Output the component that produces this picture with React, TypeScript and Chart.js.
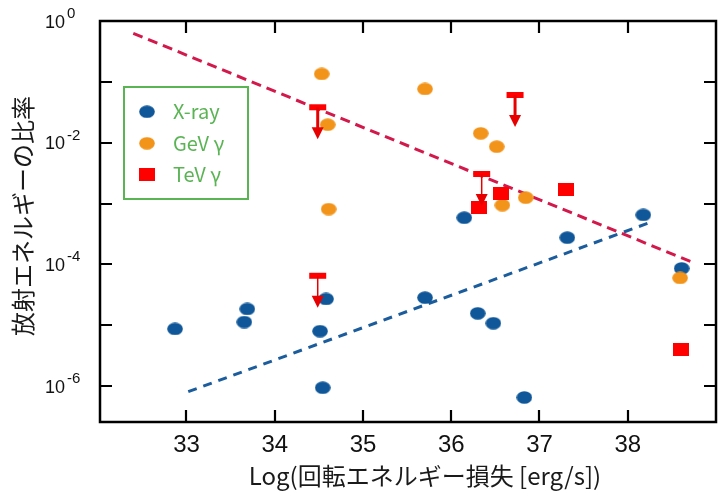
import React, { useEffect, useRef } from 'react';
import { Chart, registerables } from 'chart.js';

Chart.register(...registerables);

// Log10 of spin-down luminance (erg/s) and the radiated energy fraction
const xrayX = [32.87, 33.655, 33.689, 34.581, 34.513, 34.544, 35.703, 36.148, 36.3, 36.477, 36.828, 37.315, 38.176, 38.611];
const xrayY = [8.7e-6, 1.13e-5, 1.85e-5, 2.7e-5, 8.0e-6, 9.4e-7, 2.84e-5, 5.85e-4, 1.57e-5, 1.08e-5, 6.5e-7, 2.75e-4, 6.5e-4, 8.6e-5];

const gevX = [34.532, 34.6, 34.611, 35.703, 36.334, 36.515, 36.579, 36.844, 38.593];
const gevY = [0.135, 0.0198, 8.1e-4, 0.0763, 0.01426, 8.6e-3, 9.4e-4, 1.25e-3, 6.0e-5];

const tevX = [36.318, 36.567, 37.3, 38.603];
const tevY = [8.55e-4, 1.47e-3, 1.67e-3, 4.07e-6];

// TeV upper limits
const tevLimitX = [34.487, 36.723, 36.345, 34.487];
const tevLimitY = [0.0382, 0.0608, 3.06e-3, 6.5e-5];

// Trend lines
const gammaTrendX = [32.397, 38.762];
const gammaTrendY = [0.628, 1.04e-4];
const xrayTrendX = [33.02, 38.244];
const xrayTrendY = [8.1e-7, 4.84e-4];

// Axes
const xTicks = [33, 34, 35, 36, 37, 38];
const yTickExponents = [-1, -2, -3, -4, -5, -6];
const yLabelExponents = [0, -2, -4, -6];

const legendLabels = ['X-ray', 'GeV γ', 'TeV γ'];
const xTitle = 'Log(回転エネルギー損失 [erg/s])';
const yTitle = '放射エネルギーの比率';

const BLUE = '#0f5799';
const ORANGE = '#f3941a';
const RED = '#ff0000';
const GREEN = '#5ab454';
const arrowShaftWidths = [3, 3, 1.5, 1.5];

function ellipseMark(color: string): HTMLCanvasElement {
  const c = document.createElement('canvas');
  c.width = 16;
  c.height = 13;
  const g = c.getContext('2d')!;
  g.fillStyle = color;
  g.beginPath();
  g.ellipse(8, 6.5, 7.8, 6.3, 0, 0, Math.PI * 2);
  g.fill();
  return c;
}

function squareMark(color: string): HTMLCanvasElement {
  const c = document.createElement('canvas');
  c.width = 16;
  c.height = 13;
  const g = c.getContext('2d')!;
  g.fillStyle = color;
  g.fillRect(0, 0, 16, 13);
  return c;
}

const pts = (xs: number[], ys: number[]) => xs.map((x, i) => ({ x, y: ys[i] }));

export default function App() {
  const ref = useRef<HTMLCanvasElement | null>(null);

  useEffect(() => {
    if (!ref.current) return;
    const blueMark = ellipseMark(BLUE);
    const orangeMark = ellipseMark(ORANGE);
    const redMark = squareMark(RED);

    const decorations = {
      id: 'decorations',
      afterDatasetsDraw(chart: any) {
        const { ctx, scales } = chart;
        const xs = scales.x;
        const ys = scales.y;
        ctx.save();
        tevLimitX.forEach((xv, i) => {
          const px = xs.getPixelForValue(xv);
          const py = ys.getPixelForValue(tevLimitY[i]);
          const len = 32;
          ctx.fillStyle = RED;
          ctx.fillRect(px - 8.5, py - 3, 17, 6);
          ctx.strokeStyle = '#e60000';
          ctx.lineWidth = arrowShaftWidths[i];
          ctx.beginPath();
          ctx.moveTo(px, py);
          ctx.lineTo(px, py + len - 10);
          ctx.stroke();
          ctx.fillStyle = '#e60000';
          ctx.beginPath();
          ctx.moveTo(px - 6, py + len - 12);
          ctx.lineTo(px + 6, py + len - 12);
          ctx.lineTo(px, py + len);
          ctx.closePath();
          ctx.fill();
        });
        ctx.restore();
      },
      afterDraw(chart: any) {
        const { ctx, chartArea, scales } = chart;
        const { left, right, top, bottom } = chartArea;
        const xs = scales.x;
        const ys = scales.y;
        ctx.save();

        // frame and inward ticks
        ctx.strokeStyle = '#000';
        ctx.lineWidth = 2.5;
        ctx.strokeRect(left, top, right - left, bottom - top);
        ctx.lineWidth = 2.2;
        ctx.beginPath();
        xTicks.forEach((v) => {
          const px = Math.round(xs.getPixelForValue(v));
          ctx.moveTo(px, top);
          ctx.lineTo(px, top + 12);
          ctx.moveTo(px, bottom);
          ctx.lineTo(px, bottom - 12);
        });
        yTickExponents.forEach((e) => {
          const py = Math.round(ys.getPixelForValue(Math.pow(10, e)));
          ctx.moveTo(left, py);
          ctx.lineTo(left + 12, py);
          ctx.moveTo(right, py);
          ctx.lineTo(right - 12, py);
        });
        ctx.stroke();

        // tick labels
        ctx.fillStyle = '#111';
        ctx.textAlign = 'center';
        ctx.textBaseline = 'alphabetic';
        ctx.font = '24px "Liberation Sans", Arial, sans-serif';
        xTicks.forEach((v) => {
          ctx.fillText(String(v), xs.getPixelForValue(v), 452);
        });
        ctx.textAlign = 'left';
        yLabelExponents.forEach((e) => {
          const py = ys.getPixelForValue(Math.pow(10, e));
          const base = py + 6.5;
          ctx.font = '18px "Liberation Sans", Arial, sans-serif';
          ctx.fillText('10', 45, base);
          const w = ctx.measureText('10').width;
          ctx.font = '15px "Liberation Sans", Arial, sans-serif';
          ctx.fillText(e === 0 ? '0' : '-' + Math.abs(e), 45 + w + 2, base - 9.5);
        });

        // axis titles
        ctx.fillStyle = '#1a1a1a';
        ctx.font = '24px "Noto Sans CJK JP", sans-serif';
        ctx.textAlign = 'center';
        ctx.textBaseline = 'middle';
        ctx.fillText(xTitle, 425, 476);
        ctx.save();
        ctx.translate(23, 216);
        ctx.rotate(-Math.PI / 2);
        ctx.fillText(yTitle, 0, 0);
        ctx.restore();

        // legend
        ctx.strokeStyle = GREEN;
        ctx.lineWidth = 2;
        ctx.strokeRect(124, 87, 124, 112);
        const marks = [blueMark, orangeMark, redMark];
        const rows = [111.7, 143.3, 174.3];
        ctx.fillStyle = GREEN;
        ctx.font = '20px "Noto Sans CJK JP", sans-serif';
        ctx.textAlign = 'left';
        ctx.textBaseline = 'middle';
        legendLabels.forEach((label, i) => {
          const m = marks[i];
          ctx.drawImage(m, 147 - m.width / 2, rows[i] - m.height / 2);
          ctx.fillText(label, 173, rows[i]);
        });
        ctx.restore();
      },
    };

    const chart = new Chart(ref.current, {
      type: 'scatter',
      data: {
        datasets: [
          { label: legendLabels[2], data: pts(tevX, tevY), pointStyle: redMark as any, pointRadius: 8 },
          { label: legendLabels[1], data: pts(gevX, gevY), pointStyle: orangeMark as any, pointRadius: 8 },
          { label: legendLabels[0], data: pts(xrayX, xrayY), pointStyle: blueMark as any, pointRadius: 8 },
          {
            type: 'line' as any,
            label: 'gamma trend',
            data: pts(gammaTrendX, gammaTrendY),
            showLine: true,
            borderColor: '#d3194b',
            borderWidth: 3,
            borderDash: [10, 6],
            pointRadius: 0,
            fill: false,
          },
          {
            type: 'line' as any,
            label: 'x-ray trend',
            data: pts(xrayTrendX, xrayTrendY),
            showLine: true,
            borderColor: '#1b5c9c',
            borderWidth: 3,
            borderDash: [9, 7],
            pointRadius: 0,
            fill: false,
          },
        ] as any,
      },
      options: {
        responsive: false,
        animation: false,
        layout: { padding: { left: 100, top: 21, right: 11, bottom: 76 } },
        plugins: { legend: { display: false }, tooltip: { enabled: false } },
        scales: {
          x: { type: 'linear', min: 32.02, max: 39, display: false },
          y: { type: 'logarithmic', min: 2.57e-7, max: 1, display: false },
        },
      },
      plugins: [decorations],
    });
    return () => chart.destroy();
  }, []);

  return (
    <div style={{ position: 'fixed', left: 0, top: 0, width: 727, height: 498, background: '#fff' }}>
      <canvas ref={ref} width={727} height={498} style={{ display: 'block' }} />
    </div>
  );
}
